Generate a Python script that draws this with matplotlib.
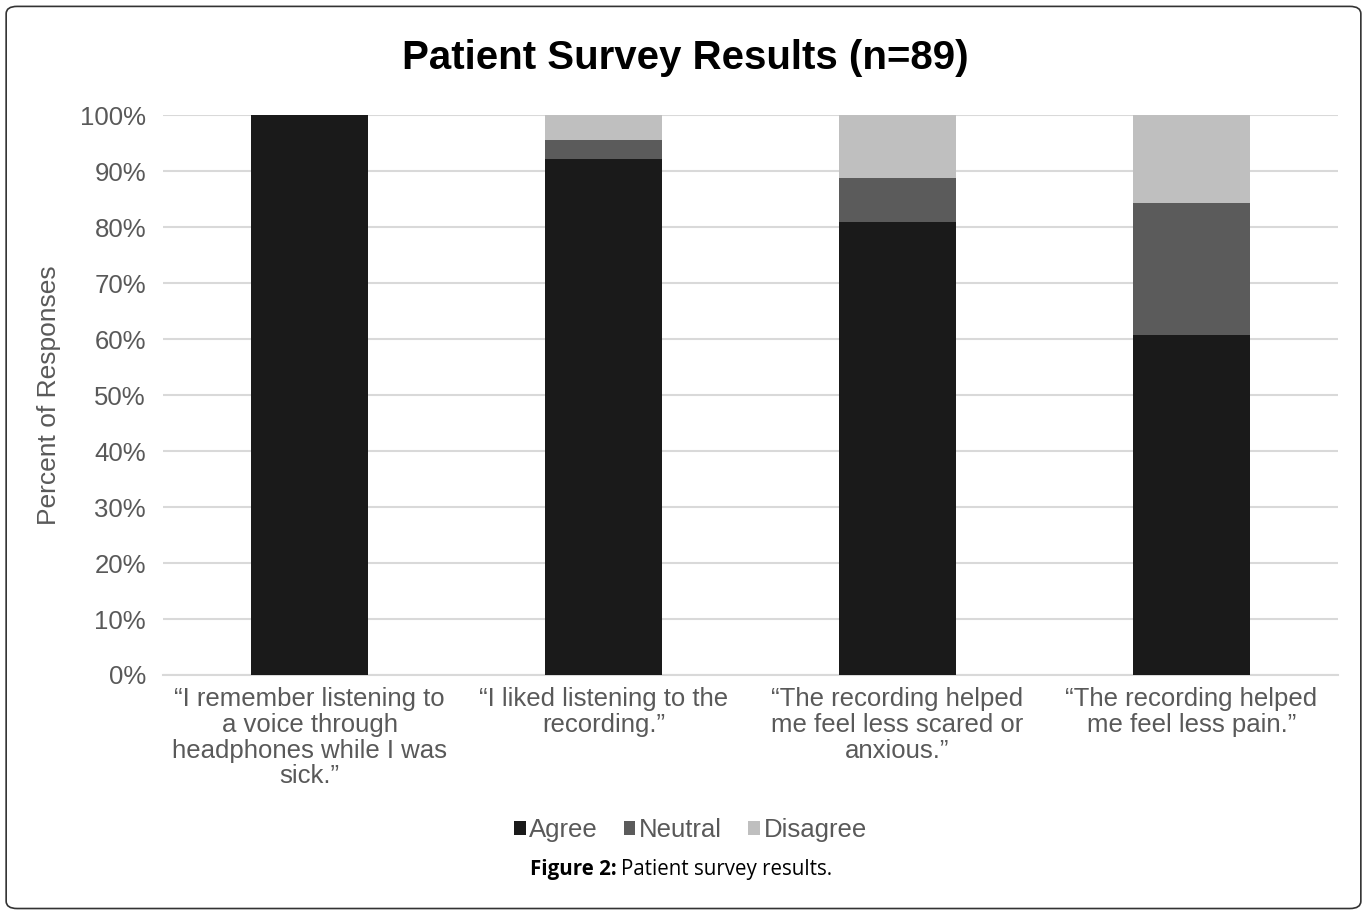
import numpy as np
import matplotlib
matplotlib.use('Agg')
import matplotlib.pyplot as plt
from matplotlib.patches import FancyBboxPatch

plt.rcParams['font.family'] = ['Liberation Sans', 'DejaVu Sans']

# dati (percentuali, n = 89)
categorie = ['\u201cI remember listening to\na voice through\nheadphones while I was\nsick.\u201d',
             '\u201cI liked listening to the\nrecording.\u201d',
             '\u201cThe recording helped\nme feel less scared or\nanxious.\u201d',
             '\u201cThe recording helped\nme feel less pain.\u201d']
agree = [100.0, 92.1, 80.9, 60.7]
neutral = [0.0, 3.4, 7.9, 23.6]
disagree = [0.0, 4.5, 11.2, 15.7]

grigio = '#595959'

fig = plt.figure(figsize = (13.67, 9.14), dpi = 100)
ax = fig.add_axes([0.119, 0.2615, 0.860, 0.6125])

x = np.arange(len(categorie))
w = 0.40
ax.bar(x, agree, w, color = '#1a1a1a', label = 'Agree', zorder = 3)
ax.bar(x, neutral, w, bottom = agree, color = '#5b5b5b', label = 'Neutral', zorder = 3)
ax.bar(x, disagree, w, bottom = np.array(agree) + np.array(neutral), color = '#bfbfbf', label = 'Disagree', zorder = 3)

ax.set_xlim(-0.5, 3.5)
ax.set_ylim(0, 100)
ax.set_yticks(np.arange(0, 101, 10))
ax.set_yticklabels([f'{v}%' for v in range(0, 101, 10)], fontsize = 18.5, color = grigio)
ax.set_xticks(x)
ax.set_xticklabels(categorie, fontsize = 18.5, color = grigio, linespacing = 1.08)
ax.tick_params(length = 0, pad = 12)
ax.tick_params(axis = 'x', pad = 9)
ax.yaxis.grid(True, color = '#d9d9d9', linewidth = 1.5, zorder = 0)
for s in ax.spines.values():
    s.set_visible(False)
ax.spines['bottom'].set_visible(True)
ax.spines['bottom'].set_color('#d9d9d9')
ax.spines['bottom'].set_linewidth(1.5)
ax.set_ylabel('Percent of Responses', fontsize = 19, color = grigio, labelpad = 14)

fig.text(0.501, 0.937, 'Patient Survey Results (n=89)', fontsize = 29, fontweight = 'bold',
         ha = 'center', va = 'center', color = 'black')

fig.legend(loc = 'center', bbox_to_anchor = (0.505, 0.092), ncol = 3, frameon = False,
           fontsize = 18.5, handlelength = 0.45, handleheight = 0.45, handletextpad = 0.15,
           columnspacing = 1.0, labelcolor = grigio)

t1 = fig.text(0.3875, 0.049, 'Figure 2:', fontsize = 14.8, fontweight = 'bold', family = ['Open Sans', 'DejaVu Sans'],
              ha = 'left', va = 'center')
r = fig.canvas.get_renderer()
bb = t1.get_window_extent(renderer = r)
fig.text((bb.x1 + 5) / fig.bbox.width, 0.049, 'Patient survey results.', fontsize = 14.8,
         family = ['Open Sans', 'DejaVu Sans'], ha = 'left', va = 'center')

bordo = FancyBboxPatch((0.0045, 0.006), 0.991, 0.987, boxstyle = 'round,pad=0,rounding_size=0.008',
                       transform = fig.transFigure, fill = False, edgecolor = '#333333', linewidth = 1.2)
fig.patches.append(bordo)

plt.savefig('out.png', dpi = 100)
